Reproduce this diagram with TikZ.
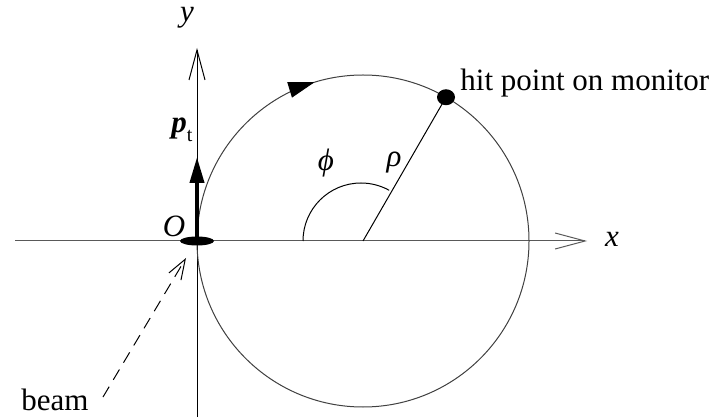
\documentclass[tikz,border=0pt]{standalone}
\usepackage{fontspec}
\setmainfont{Liberation Serif}
\newfontfamily\timesfont{Liberation Serif}
\usepackage{tikz}
\usetikzlibrary{positioning,arrows.meta,calc,shapes.geometric}

\begin{document}
\begin{tikzpicture}[x=0.5pt,y=0.5pt,
      axis/.style={line width=0.5pt,-{Straight Barb[length=15pt,width=8pt,line width=0.5pt]}},
      lab/.style={font=\timesfont\fontsize{15.5}{18}\selectfont\itshape,inner sep=1pt},
      txt/.style={font=\timesfont\fontsize{15.5}{18}\selectfont,inner sep=1pt}]
    \useasboundingbox (0,0) rectangle (710,417);
    % points
    \coordinate (O) at (197,176);
    \coordinate (C) at (363,176);
    \coordinate (xstart) at (15,176);
    \coordinate (xend) at (587,176);
    \coordinate (ystart) at (197,0);
    \coordinate (yend) at (197,369);
    \coordinate (ptip) at (197,260);
    \coordinate (hit) at ($(C)+(60:166)$);
    \coordinate (btail) at (103,20);
    \coordinate (btip) at (186,159);
    % axes
    \draw[axis,black!65] (xstart) -- (xend);
    \draw[axis] (ystart) -- (yend);
    \node[lab] (xlab) at (612,178) {x};
    \node[lab] (ylab) at (187,399) {y};
    \node[lab] (olab) at (174,191) {O};
    % monitor circle
    \draw[black!75,line width=0.5pt] (C) circle[radius=166];
    \draw[line width=0.5pt,-{Triangle[length=13pt,width=8pt]}]
      ($(C)+(115:166)$) arc[start angle=115,end angle=107,radius=166];
    \draw[line width=0.5pt] (C) -- (hit);
    \draw[line width=0.5pt] ($(C)+(180:60)$) arc[start angle=180,end angle=61,radius=58];
    \node[lab] (philab) at (326,254) {ϕ};
    \node[lab] (rholab) at (394,254) {ρ};
    \fill (hit) ellipse[x radius=9,y radius=8];
    \node[txt,anchor=west] (hitlab) at (458,334) {hit point on monitor};
    % transverse momentum
    \draw[line width=2pt,-{Triangle[length=13pt,width=7pt]}] (O) -- (ptip);
    \node[txt] (plab) at (182,287) {\textbf{\textit{p}}\raisebox{-0.6ex}{\fontsize{10}{12}\selectfont t}};
    \fill (O) ellipse[x radius=17,y radius=4.5];
    % beam
    \node[txt] (beamlab) at (55,17) {beam};
    \draw[dashed,dash pattern=on 6pt off 4pt,line width=0.5pt,
      -{Straight Barb[length=10pt,width=7pt,line width=0.5pt]}] (btail) -- (btip);
  \end{tikzpicture}
\end{document}
